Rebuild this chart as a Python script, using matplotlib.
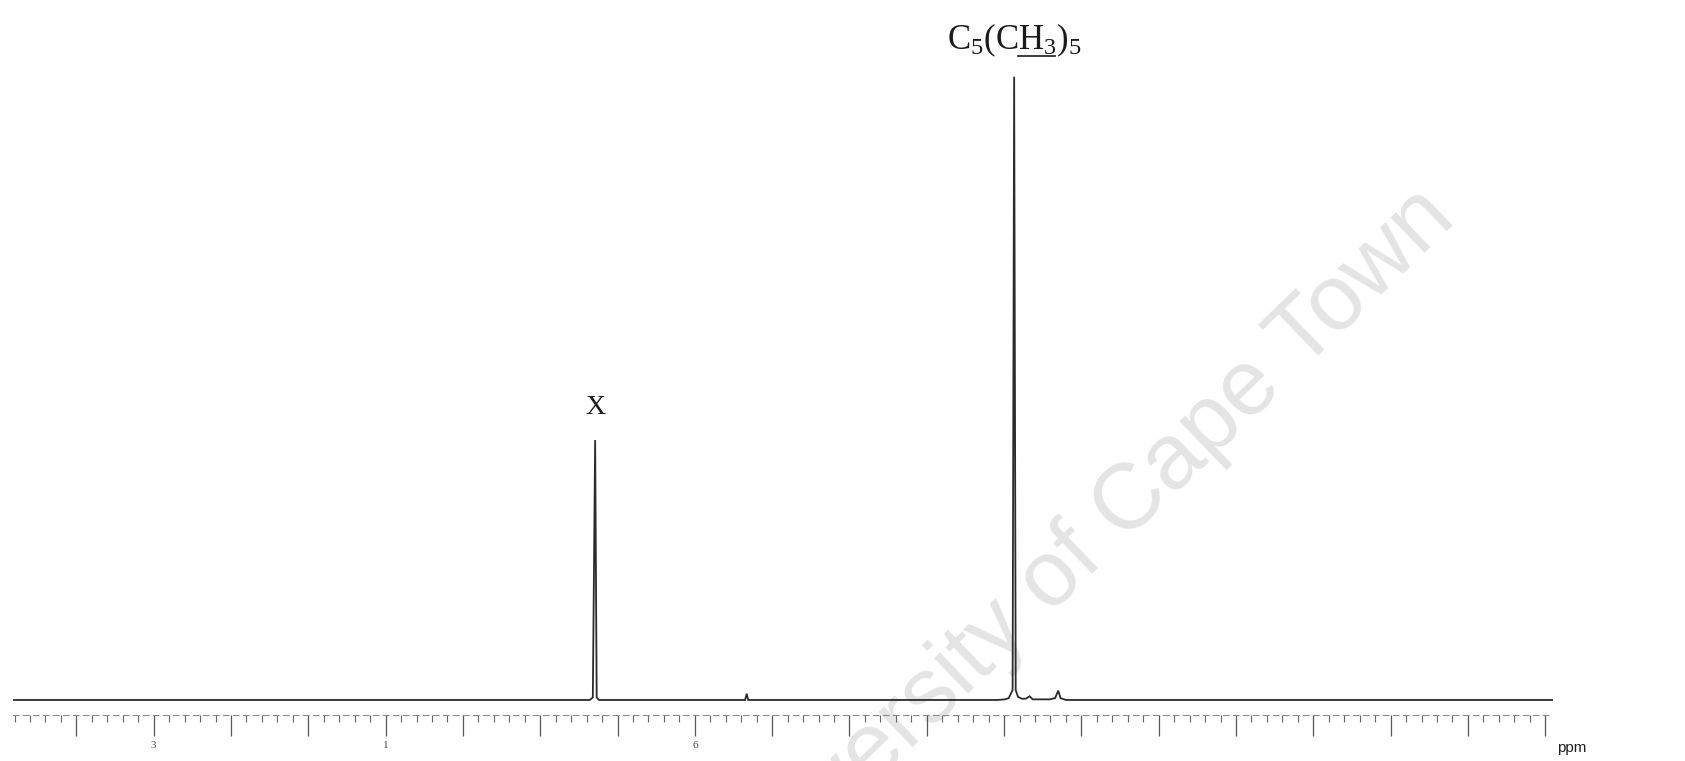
import matplotlib
matplotlib.use("Agg")
import matplotlib.pyplot as plt
from matplotlib.lines import Line2D

plt.rcParams['mathtext.fontset'] = 'custom'
plt.rcParams['mathtext.rm'] = 'Liberation Serif'
plt.rcParams['mathtext.it'] = 'Liberation Serif:italic'

# spectrum (ppm, relative intensity, Cp* = 100)
ppm = [14.82, 7.36, 7.32, 7.29, 7.27, 7.24, 5.35, 5.33, 5.31,
       2.09, 1.99, 1.94, 1.89, 1.87, 1.85, 1.82, 1.77, 1.72, 1.67, 1.63,
       1.41, 1.34, 1.30, 1.27, 1.20, -5.10]
intensity = [0, 0, 0.4, 41.7, 0.4, 0, 0, 1.0, 0,
             0, 0.1, 0.3, 1.6, 100, 1.6, 0.5, 0.2, 0.2, 0.6, 0.1,
             0.1, 0.3, 1.5, 0.3, 0, 0]

# peak labels
peak_labels = ["X", r"$\mathrm{C_5(CH_3)_5}$"]
peak_pos = [7.29, 1.87]

# axis ticks (only a few labels survive on the scan)
major_ticks = list(range(14, -6, -1))
tick_text = {13: "3", 10: "1", 6: "6"}
minor_ticks = [t / 5 for t in range(74, -26, -1)]

W, H = 1685, 761
fig = plt.figure(figsize=(W / 100, H / 100), dpi=100)
fig.patch.set_facecolor("white")
ax = fig.add_axes([13 / W, (H - 715) / H, 1540 / W, (715 - 20) / H])
ax.patch.set_alpha(0)

ax.plot(ppm, intensity, color="#2b2b2b", lw=1.3, solid_joinstyle="miter")

ax.set_xlim(14.82, -5.10)
ax.set_ylim(-2.41, 109.1)

for s in ["top", "left", "right"]:
    ax.spines[s].set_visible(False)
ax.spines["bottom"].set_color("#8a8a8a")
ax.spines["bottom"].set_linewidth(0.8)
ax.spines["bottom"].set_linestyle((0, (5, 4)))
ax.set_yticks([])

ax.set_xticks(major_ticks)
ax.set_xticklabels([tick_text.get(t, "") for t in major_ticks],
                   fontfamily="Liberation Serif", fontsize=8, color="#444444")
ax.set_xticks(minor_ticks, minor=True)
ax.tick_params(axis="x", which="major", length=15, width=0.9, color="#555555", pad=4)
ax.tick_params(axis="x", which="minor", length=5, width=0.8, color="#666666")

ax.text(peak_pos[0], 46.9, peak_labels[0], ha="center", va="center",
        fontsize=20, family="Liberation Serif", color="#1a1a1a")
lab = ax.text(peak_pos[1], 105.8, peak_labels[1], ha="center", va="center",
              fontsize=25, color="#1a1a1a")

fig.text(1081 / W, 1 - 551 / H, "University of Cape Town", rotation=44,
         ha="center", va="center", fontsize=67, family="Liberation Sans",
         color="#e4e4e4", zorder=-5)

fig.text(1572 / W, 1 - 748 / H, "ppm", ha="center", va="center",
         fontsize=11, family="Liberation Sans", color="#222222")

# underline the H of the methyl group
fig.canvas.draw()
r = fig.canvas.get_renderer()
bb = lab.get_window_extent(r)


def text_width(s):
    t = ax.text(0, 0, s, fontsize=25)
    w = t.get_window_extent(r).width
    t.remove()
    return w


x0 = bb.x0 + text_width(r"$\mathrm{C_5(C}$")
x1 = x0 + text_width(r"$\mathrm{H_3}$") * 0.95
yl = bb.y0 + 3
fig.add_artist(Line2D([x0 / W, x1 / W], [yl / H, yl / H], color="#1a1a1a", lw=1.2))

fig.savefig("out.png", dpi=100, facecolor="white")
